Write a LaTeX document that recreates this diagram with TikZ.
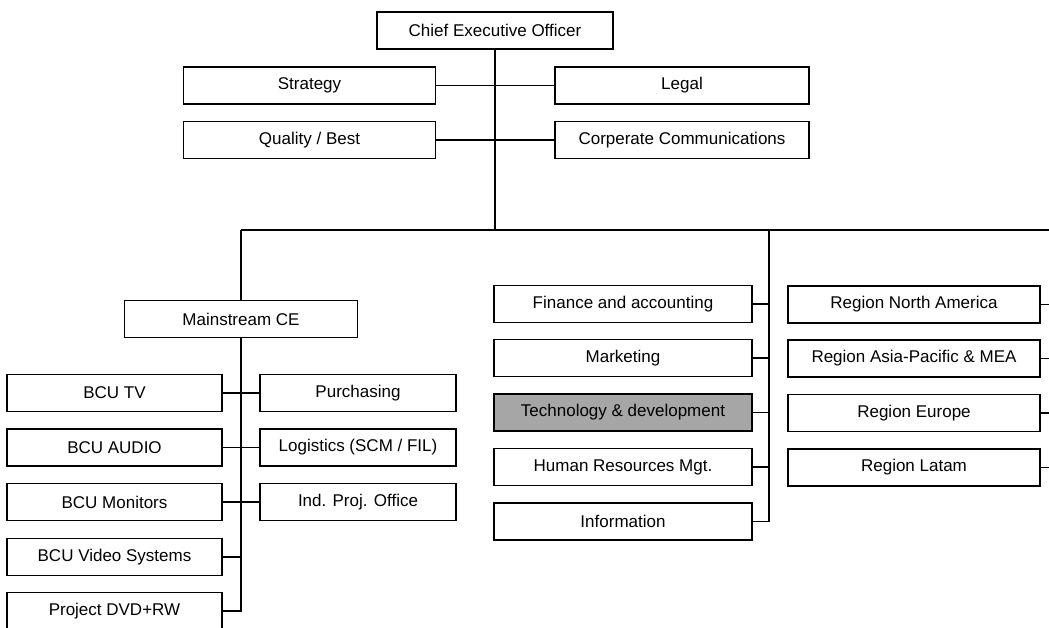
\documentclass[tikz,border=0pt]{standalone}
\usepackage{fontspec}
\setmainfont{Liberation Sans}
\begin{document}
\begin{tikzpicture}[
  x=1pt, y=-1pt,
  box/.style={
    draw,
    rectangle,
    line width=1.1pt,
    minimum height=37pt,
    inner sep=0pt,
    fill=white,
    font=\fontsize{17}{20}\selectfont
  },
  box_shaded/.style={
    box,
    fill=black!35
  },
  link/.style={
    draw,
    line width=1.1pt
  }
]%
\useasboundingbox (0,0) rectangle (1049,628);
% top of the chart
\node [box, minimum width=236pt] (ceo) at (495,30.5) {Chief Executive Officer};
\node [box, minimum width=252pt] (strategy) at (309.5,85.5) {Strategy};
\node [box, minimum width=254pt] (legal) at (682,85.5) {Legal};
\node [box, minimum width=252pt] (quality) at (309.5,140) {Quality / Best};
\node [box, minimum width=254pt] (comms) at (682,140) {Corperate Communications};
\coordinate (bus_left) at (241,230);
\coordinate (bus_mid) at (769,230);
\coordinate (bus_right) at (1049,230);
\draw [link] (ceo.south) -- (ceo.south |- bus_left);
\draw [link] (strategy.east) -- (legal.west);
\draw [link] (quality.east) -- (comms.west);
\draw [link] (bus_left) -- (bus_right);
% mainstream CE
\node [box, minimum width=233pt] (mainstream) at (241,319) {Mainstream CE};
\node [box, minimum width=215pt] (bcu_tv) at (114.5,393) {BCU TV};
\node [box, minimum width=215pt] (bcu_audio) at (114.5,447.5) {BCU AUDIO};
\node [box, minimum width=215pt] (bcu_monitors) at (114.5,502) {BCU Monitors};
\node [box, minimum width=215pt] (bcu_video) at (114.5,557) {BCU Video Systems};
\node [box, minimum width=215pt] (dvd) at (114.5,611) {Project DVD+RW};
\node [box, minimum width=196pt] (purchasing) at (358,393) {Purchasing};
\node [box, minimum width=196pt] (logistics) at (358,447.5) {Logistics (SCM / FIL)};
\node [box, minimum width=196pt] (proj_office) at (358,502) {Ind. Proj. Office};
\draw [link] (bus_left) -- (mainstream.north);
\draw [link] (mainstream.south) -- (mainstream.south |- dvd.east) -- (dvd.east);
\draw [link] (bcu_tv.east) -- (purchasing.west);
\draw [link] (bcu_audio.east) -- (logistics.west);
\draw [link] (bcu_monitors.east) -- (proj_office.west);
\draw [link] (bcu_video.east) -- (bcu_video.east -| mainstream.south);
% staff functions
\node [box, minimum width=258pt] (finance) at (623,304) {Finance and accounting};
\node [box, minimum width=258pt] (marketing) at (623,358) {Marketing};
\node [box_shaded, minimum width=258pt] (technology) at (623,412.5) {Technology \& development};
\node [box, minimum width=258pt] (hr) at (623,467) {Human Resources Mgt.};
\node [box, minimum width=258pt] (information) at (623,521.5) {Information};
\draw [link] (bus_mid) -- (bus_mid |- information.east) -- (information.east);
\draw [link] (finance.east) -- (finance.east -| bus_mid);
\draw [link] (marketing.east) -- (marketing.east -| bus_mid);
\draw [link] (technology.east) -- (technology.east -| bus_mid);
\draw [link] (hr.east) -- (hr.east -| bus_mid);
% regions
\node [box, minimum width=252pt] (north_america) at (914,304.5) {Region North America};
\node [box, minimum width=252pt] (asia_pacific) at (914,358.5) {Region Asia-Pacific \& MEA};
\node [box, minimum width=252pt] (europe) at (914,413) {Region Europe};
\node [box, minimum width=252pt] (latam) at (914,467.5) {Region Latam};
\draw [link] (north_america.east) -- (north_america.east -| bus_right);
\draw [link] (asia_pacific.east) -- (asia_pacific.east -| bus_right);
\draw [link] (europe.east) -- (europe.east -| bus_right);
\draw [link] (latam.east) -- (latam.east -| bus_right);
\end{tikzpicture}
\end{document}
